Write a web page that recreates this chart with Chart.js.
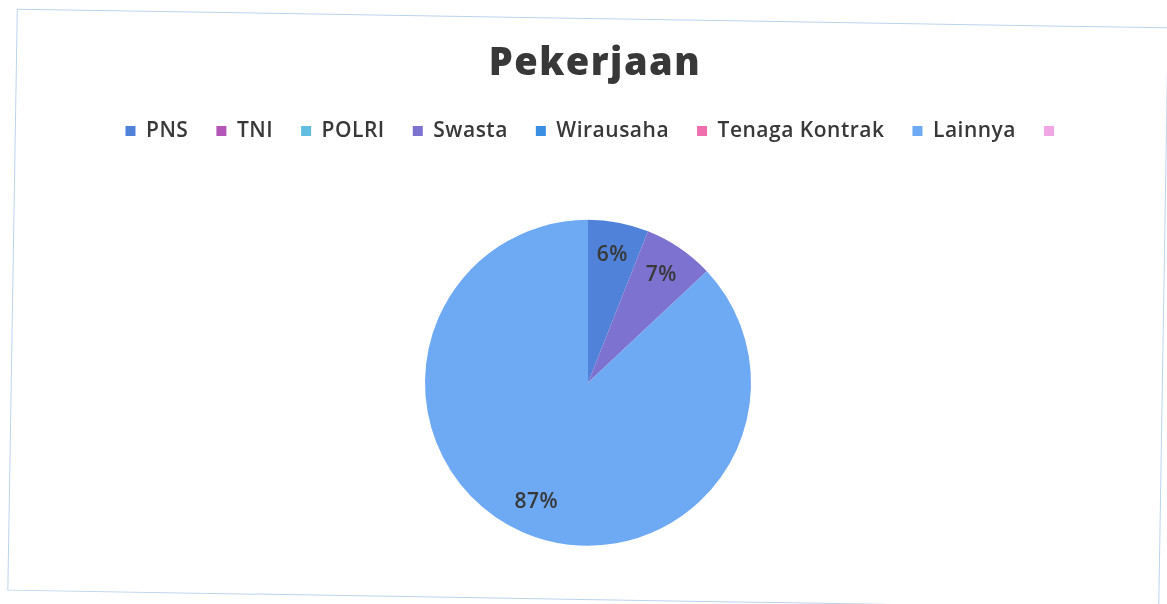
<!DOCTYPE html>
<html>
<head>
<meta charset="utf-8">
<script src="https://cdn.jsdelivr.net/npm/chart.js@4.4.0/dist/chart.umd.min.js"></script>
<style>
  html, body { margin:0; padding:0; background:#ffffff; }
  #wrap { position:relative; width:1167px; height:604px; overflow:hidden; }
  #frame { position:absolute; left:12px; top:18px; width:1152px; height:582px;
           border:1.5px solid #bcd3ee; box-sizing:border-box; transform:rotate(0.93deg); }
  #c { position:absolute; left:0; top:0; }
</style>
</head>
<body>
<div id="wrap">
  <div id="frame"></div>
  <canvas id="c" width="1167" height="604"></canvas>
</div>
<script>
const titleText = "Pekerjaan";
const categories = ["PNS", "TNI", "POLRI", "Swasta", "Wirausaha", "Tenaga Kontrak", "Lainnya", ""];
const values = [6, 0, 0, 7, 0, 0, 87, 0];
const colors = ["#4f82d8", "#b356b8", "#62bde0", "#7d72cf", "#3a8fe3", "#ef6fae", "#6ea9f4", "#f2a6e6"];

const FONT = '"Open Sans", Lato, sans-serif';
const TEXT_COLOR = '#383838';

const pctLabels = {
  id: 'pctLabels',
  afterDatasetsDraw(chart) {
    const ctx = chart.ctx;
    const meta = chart.getDatasetMeta(0);
    const data = chart.data.datasets[0].data;
    const total = data.reduce((a, b) => a + b, 0);
    ctx.save();
    ctx.letterSpacing = '0.5px';
    ctx.font = '600 21px ' + FONT;
    ctx.fillStyle = TEXT_COLOR;
    ctx.textAlign = 'center';
    ctx.textBaseline = 'middle';
    meta.data.forEach((arc, i) => {
      if (!data[i]) return;
      const p = arc.getProps(['x', 'y', 'startAngle', 'endAngle', 'outerRadius'], true);
      const mid = (p.startAngle + p.endAngle) / 2;
      const r = p.outerRadius * 0.8;
      const x = p.x + Math.cos(mid) * r;
      const y = p.y + Math.sin(mid) * r;
      ctx.fillText(Math.round(data[i] / total * 100) + '%', x, y);
    });
    ctx.letterSpacing = '0px';
    ctx.restore();
  }
};

const textTweaks = {
  id: 'textTweaks',
  beforeInit(chart) {
    const lg = chart.legend;
    const origFit = lg.fit;
    lg.fit = function () {
      const ctx = chart.ctx;
      ctx.letterSpacing = '0.5px';
      origFit.bind(lg)();
      ctx.letterSpacing = '0px';
      this.height += 69;
    };
    const origLgDraw = lg.draw;
    lg.draw = function () {
      const ctx = chart.ctx;
      ctx.save();
      ctx.translate(7, 0);
      ctx.letterSpacing = '0.5px';
      origLgDraw.apply(lg, arguments);
      ctx.letterSpacing = '0px';
      ctx.restore();
    };
    const tb = chart.titleBlock;
    const origTDraw = tb.draw;
    tb.draw = function () {
      const ctx = chart.ctx;
      ctx.save();
      ctx.translate(7, 0);
      ctx.letterSpacing = '1.5px';
      origTDraw.apply(tb, arguments);
      ctx.letterSpacing = '0px';
      ctx.restore();
    };
  }
};

new Chart(document.getElementById('c'), {
  type: 'pie',
  data: {
    labels: categories,
    datasets: [{
      data: values,
      backgroundColor: colors,
      borderWidth: 0,
      radius: 163
    }]
  },
  options: {
    responsive: false,
    animation: false,
    layout: { padding: { top: 41, left: 9, right: 0, bottom: 59 } },
    plugins: {
      title: {
        display: true,
        text: titleText,
        color: TEXT_COLOR,
        font: { family: FONT, size: 38, weight: 800 },
        padding: { top: 0, bottom: 6 }
      },
      legend: {
        display: true,
        position: 'top',
        labels: {
          boxWidth: 10,
          boxHeight: 10,
          padding: 28,
          color: TEXT_COLOR,
          font: { family: FONT, size: 21, weight: 600 }
        }
      },
      tooltip: { enabled: false }
    }
  },
  plugins: [pctLabels, textTweaks]
});
</script>
</body>
</html>
